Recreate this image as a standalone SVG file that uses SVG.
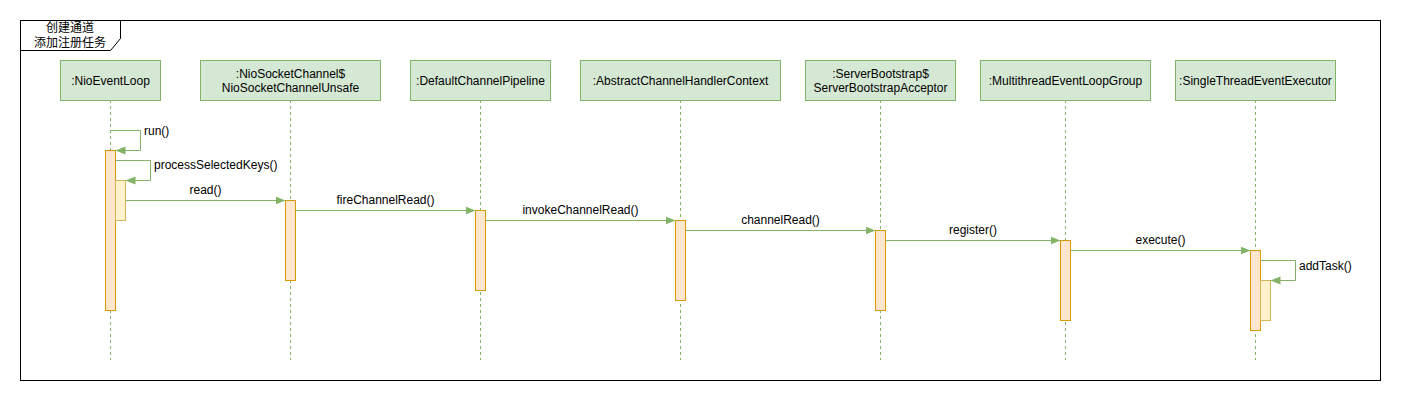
<svg xmlns="http://www.w3.org/2000/svg" width="1401" height="401" viewBox="0 0 1401 401">
<style>
.node rect{fill:#d5e8d4;stroke:#82b366;stroke-width:1}
.t{font-family:"Liberation Sans",Arial,"Noto Sans CJK SC",sans-serif;font-size:12px;fill:#000}
.life{stroke:#82b366;stroke-width:1;stroke-dasharray:3 3;fill:none}
.act{fill:#ffe6cc;stroke:#d79b00;stroke-width:1}
.act2{fill:#fff2cc;stroke:#d6b656;stroke-width:1}
.msg{stroke:#82b366;stroke-width:1;fill:none;marker-end:url(#arr)}
</style>
<defs>
<marker id="arr" viewBox="0 0 10 10" refX="10" refY="5" markerWidth="10" markerHeight="10" markerUnits="userSpaceOnUse" orient="auto">
<path d="M0,1 L10,5 L0,9 Z" fill="#82b366"/>
</marker>
</defs>
<rect width="1401" height="401" fill="#ffffff"/>
<g id="frame">
<rect x="20.5" y="20.5" width="1360" height="360" fill="none" stroke="#000"/>
<path d="M20.5,20.5 H120.5 V38.5 L110.5,50.5 H20.5 Z" fill="#fff" stroke="#000"/>
<text class="t" x="70" y="32" text-anchor="middle">创建通道</text>
<text class="t" x="70" y="47" text-anchor="middle">添加注册任务</text>
</g>
<g id="lifelines">
<line class="life" x1="110.5" y1="100" x2="110.5" y2="360"/>
<line class="life" x1="290.5" y1="100" x2="290.5" y2="360"/>
<line class="life" x1="480.5" y1="100" x2="480.5" y2="360"/>
<line class="life" x1="680.5" y1="100" x2="680.5" y2="360"/>
<line class="life" x1="880.5" y1="100" x2="880.5" y2="360"/>
<line class="life" x1="1065.5" y1="100" x2="1065.5" y2="360"/>
<line class="life" x1="1255.5" y1="100" x2="1255.5" y2="360"/>
</g>
<g id="n1" class="node"><rect x="60.5" y="60.5" width="100" height="40"/><text class="t" x="110.5" y="85" text-anchor="middle">:NioEventLoop</text></g>
<g id="n2" class="node"><rect x="200.5" y="60.5" width="180" height="40"/><text class="t" x="290.5" y="78" text-anchor="middle">:NioSocketChannel$</text><text class="t" x="290.5" y="92" text-anchor="middle">NioSocketChannelUnsafe</text></g>
<g id="n3" class="node"><rect x="410.5" y="60.5" width="140" height="40"/><text class="t" x="480.5" y="85" text-anchor="middle">:DefaultChannelPipeline</text></g>
<g id="n4" class="node"><rect x="580.5" y="60.5" width="200" height="40"/><text class="t" x="680.5" y="85" text-anchor="middle">:AbstractChannelHandlerContext</text></g>
<g id="n5" class="node"><rect x="805.5" y="60.5" width="150" height="40"/><text class="t" x="880.5" y="78" text-anchor="middle">:ServerBootstrap$</text><text class="t" x="880.5" y="92" text-anchor="middle">ServerBootstrapAcceptor</text></g>
<g id="n6" class="node"><rect x="980.5" y="60.5" width="170" height="40"/><text class="t" x="1065.5" y="85" text-anchor="middle">:MultithreadEventLoopGroup</text></g>
<g id="n7" class="node"><rect x="1175.5" y="60.5" width="160" height="40"/><text class="t" x="1255.5" y="85" text-anchor="middle">:SingleThreadEventExecutor</text></g>
<g id="activations">
<rect class="act" x="105.5" y="150.5" width="10" height="160"/>
<rect class="act2" x="115.5" y="180.5" width="10" height="40"/>
<rect class="act" x="285.5" y="200.5" width="10" height="80"/>
<rect class="act" x="475.5" y="210.5" width="10" height="80"/>
<rect class="act" x="675.5" y="220.5" width="10" height="80"/>
<rect class="act" x="875.5" y="230.5" width="10" height="80"/>
<rect class="act" x="1060.5" y="240.5" width="10" height="80"/>
<rect class="act" x="1250.5" y="250.5" width="10" height="80"/>
<rect class="act2" x="1260.5" y="280.5" width="10" height="40"/>
</g>
<g id="connectors">
<path class="msg" d="M110.5,130.5 H140.5 V150.5 H115.5"/>
<text class="t" x="144" y="135">run()</text>
<path class="msg" d="M115.5,160.5 H150.5 V180.5 H125.5"/>
<text class="t" x="154" y="169">processSelectedKeys()</text>
<path class="msg" d="M125.5,200.5 H285.5"/>
<text class="t" x="205.5" y="194" text-anchor="middle">read()</text>
<path class="msg" d="M295.5,210.5 H475.5"/>
<text class="t" x="385.5" y="204" text-anchor="middle">fireChannelRead()</text>
<path class="msg" d="M485.5,220.5 H675.5"/>
<text class="t" x="580.5" y="214" text-anchor="middle">invokeChannelRead()</text>
<path class="msg" d="M685.5,230.5 H875.5"/>
<text class="t" x="780.5" y="224" text-anchor="middle">channelRead()</text>
<path class="msg" d="M885.5,240.5 H1060.5"/>
<text class="t" x="973" y="234" text-anchor="middle">register()</text>
<path class="msg" d="M1070.5,250.5 H1250.5"/>
<text class="t" x="1160.5" y="244" text-anchor="middle">execute()</text>
<path class="msg" d="M1260.5,260.5 H1295.5 V280.5 H1270.5"/>
<text class="t" x="1299" y="270">addTask()</text>
</g>
</svg>
